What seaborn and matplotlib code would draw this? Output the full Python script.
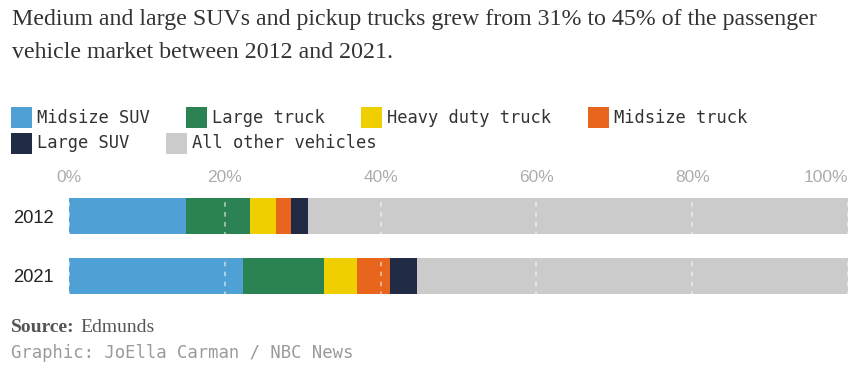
import matplotlib
matplotlib.use("Agg")
import matplotlib.pyplot as plt
from matplotlib.patches import Rectangle
import seaborn as sns
import pandas as pd

# ---- data ----
years = ["2012", "2021"]
categories = ["Midsize SUV", "Large truck", "Heavy duty truck", "Midsize truck", "Large SUV", "All other vehicles"]
midsize_suv = [15.0, 22.3]
large_truck = [8.2, 10.4]
heavy_duty_truck = [3.4, 4.3]
midsize_truck = [1.9, 4.2]
large_suv = [2.1, 3.5]
all_other = [69.4, 55.3]
colors = ["#4fa0d4", "#2b8353", "#f0cf00", "#e8651e", "#222b45", "#cbcbcb"]
ticks = [0, 20, 40, 60, 80, 100]
tick_labels = ["0%", "20%", "40%", "60%", "80%", "100%"]

title = ("Medium and large SUVs and pickup trucks grew from 31% to 45% of the passenger\n"
         "vehicle market between 2012 and 2021.")

series = [midsize_suv, large_truck, heavy_duty_truck, midsize_truck, large_suv, all_other]
df = pd.DataFrame({"year": years})
running = [0.0] * len(years)
cum_cols = []
for name, vals in zip(categories, series):
    running = [r + v for r, v in zip(running, vals)]
    df[name] = running
    cum_cols.append(name)

sns.set_theme(style="white")
W, H = 855, 366
fig = plt.figure(figsize=(W / 100, H / 100), dpi=100)

# axes placement (pixel-based)
left_px, right_px = 69.2, 848
top_px, bot_px = 186.2, 305.5
ax = fig.add_axes([left_px / W, 1 - bot_px / H, (right_px - left_px) / W, (bot_px - top_px) / H])

for name, col in reversed(list(zip(cum_cols, colors))):
    sns.barplot(data=df, x=name, y="year", order=years, color=col, saturation=1,
                width=0.6, orient="h", ax=ax, zorder=2, linewidth=0)

ax.set_xlim(0, 100)
ax.set_ylim(1.5, -0.5)
for s in ax.spines.values():
    s.set_visible(False)
ax.set_xlabel("")
ax.set_ylabel("")
ax.xaxis.tick_top()
ax.set_xticks(ticks)
ax.set_xticklabels(tick_labels, fontfamily="Liberation Sans", fontsize=12.5, color="#adadad")
ax.get_xticklabels()[-1].set_horizontalalignment("right")
ax.tick_params(axis="x", length=0, pad=1)
ax.tick_params(axis="y", length=0, pad=11)
for lab in ax.get_yticklabels():
    lab.set_fontfamily("Liberation Sans")
    lab.set_fontsize(13.2)
    lab.set_color("#222222")
for t in ticks:
    ax.axvline(t, color="white", alpha=0.55, lw=1.3, ls=(0, (2.5, 3)), zorder=5)
ax.grid(False)

# title
fig.text(12 / W, 1 - 9 / H, title, fontfamily="Liberation Serif", fontsize=17.2,
         color="#333333", va="top", ha="left", linespacing=1.72)

# legend (flow layout)
legend_pos = [(11, 107), (186, 107), (361, 107), (588, 107), (11, 133), (166, 133)]
sw = 21
for (lx, ly), name, col in zip(legend_pos, categories, colors):
    fig.patches.append(Rectangle((lx / W, 1 - (ly + sw) / H), sw / W, sw / H,
                                 transform=fig.transFigure, facecolor=col, edgecolor="none"))
    fig.text((lx + 26) / W, 1 - (ly + sw / 2) / H, name, fontfamily="DejaVu Sans Mono",
             fontsize=12.3, color="#333333", va="center", ha="left")

# source
fig.text(11 / W, 1 - 327 / H, "Source:", fontfamily="Liberation Serif", fontweight="bold",
         fontsize=14, color="#555555", va="center", ha="left")
fig.text(80 / W, 1 - 327 / H, "Edmunds", fontfamily="Liberation Serif",
         fontsize=14, color="#555555", va="center", ha="left")
fig.text(11 / W, 1 - 353 / H, "Graphic: JoElla Carman / NBC News", fontfamily="DejaVu Sans Mono",
         fontsize=12.4, color="#9a9a9a", va="center", ha="left")

fig.savefig("out.png", dpi=100)
